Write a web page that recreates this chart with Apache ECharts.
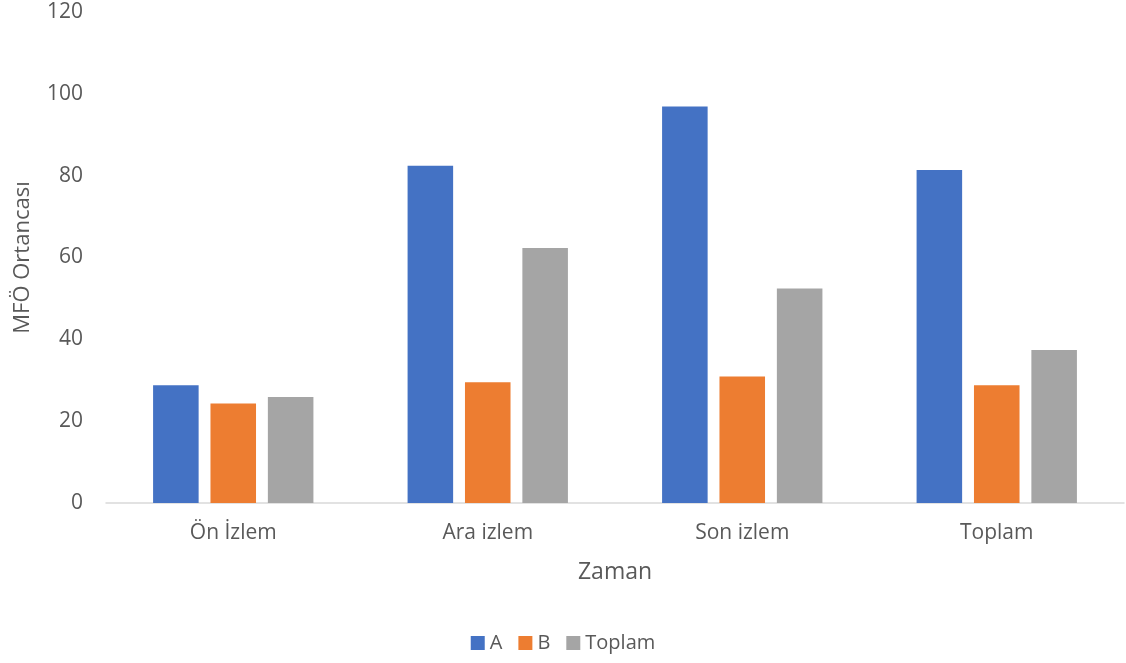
<!DOCTYPE html>
<html>
<head>
<meta charset="utf-8">
<script src="https://cdn.jsdelivr.net/npm/echarts@6/dist/echarts.min.js"></script>
<style>
  html, body { margin: 0; padding: 0; background: #fff; }
  #main { width: 1126px; height: 663px; }
</style>
</head>
<body>
<div id="main"></div>
<script>
var kategoriler = ['Ön İzlem', 'Ara izlem', 'Son izlem', 'Toplam'];
var grupA = [28.8, 82.4, 96.9, 81.4];
var grupB = [24.3, 29.5, 30.9, 28.8];
var toplam = [25.9, 62.3, 52.4, 37.4];
var yTicks = [0, 20, 40, 60, 80, 100, 120];

var chartDom = document.getElementById('main');
var myChart = echarts.init(chartDom);
var option;

var yazi = '#595959';
var font = 'Open Sans';

function seri(name, data, color) {
  return {
    name: name,
    type: 'bar',
    data: data,
    barGap: '26%',
    barCategoryGap: '37%',
    itemStyle: { color: color }
  };
}

option = {
  backgroundColor: '#fff',
  textStyle: { fontFamily: font },
  legend: {
    bottom: 5,
    left: 'center',
    itemWidth: 14,
    itemHeight: 14,
    itemGap: 16,
    icon: 'rect',
    textStyle: { color: yazi, fontSize: 20, fontFamily: font }
  },
  grid: { left: 106, right: 2, top: 12, bottom: 160 },
  xAxis: {
    type: 'category',
    data: kategoriler,
    name: 'Zaman',
    nameLocation: 'middle',
    nameGap: 58,
    nameTextStyle: { color: yazi, fontSize: 23, fontFamily: font },
    axisLine: { lineStyle: { color: '#d9d9d9', width: 1.5 } },
    axisTick: { show: false },
    axisLabel: { color: yazi, fontSize: 21, margin: 20, fontFamily: font }
  },
  yAxis: {
    type: 'value',
    min: yTicks[0],
    max: yTicks[yTicks.length - 1],
    interval: 20,
    name: 'MFÖ Ortancası',
    nameLocation: 'middle',
    nameGap: 72,
    nameTextStyle: { color: yazi, fontSize: 22, fontFamily: font },
    axisLine: { show: false },
    axisTick: { show: false },
    splitLine: { show: false },
    axisLabel: { color: yazi, fontSize: 21, margin: 23, fontFamily: font }
  },
  series: [
    seri('A', grupA, '#4472c4'),
    seri('B', grupB, '#ed7d31'),
    seri('Toplam', toplam, '#a5a5a5')
  ]
};

option && myChart.setOption(option);
</script>
</body>
</html>
